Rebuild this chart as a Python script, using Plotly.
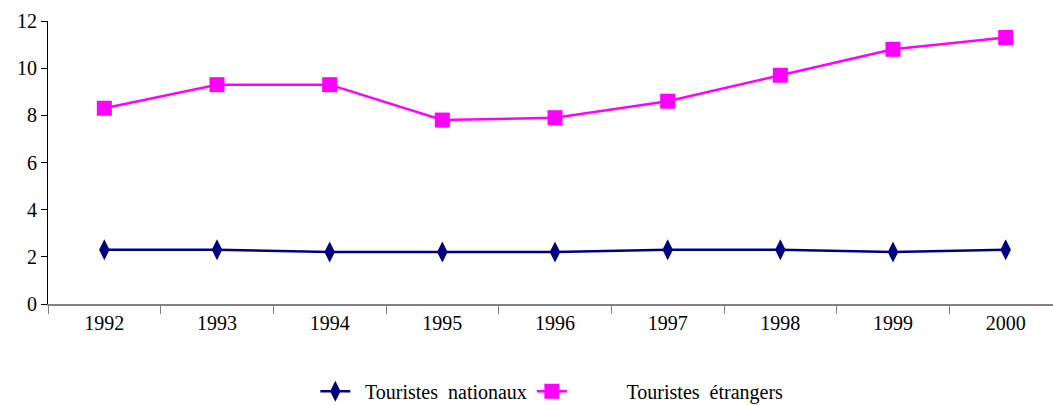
import plotly.graph_objects as go

years = ["1992", "1993", "1994", "1995", "1996", "1997", "1998", "1999", "2000"]
nationaux = [2.3, 2.3, 2.2, 2.2, 2.2, 2.3, 2.3, 2.2, 2.3]
etrangers = [8.3, 9.3, 9.3, 7.8, 7.9, 8.6, 9.7, 10.8, 11.3]

fig = go.Figure()
fig.add_trace(go.Scatter(
    x=years, y=nationaux, mode="lines+markers", name="  Touristes  nationaux",
    line=dict(color="#000080", width=2.5),
    marker=dict(symbol="diamond-tall", size=15, color="#000080"),
))
fig.add_trace(go.Scatter(
    x=years, y=etrangers, mode="lines+markers", name="           Touristes  étrangers",
    line=dict(color="#FF00FF", width=2.5),
    marker=dict(symbol="square", size=15, color="#FF00FF"),
))

font_family = "Liberation Serif"
fig.update_layout(
    width=1053, height=405,
    margin=dict(l=48, r=0, t=21, b=101),
    paper_bgcolor="white", plot_bgcolor="white",
    font=dict(family=font_family, size=20, color="black"),
    showlegend=True,
    legend=dict(orientation="h", x=0.266, xanchor="left", xref="paper",
                y=0.082, yanchor="top", yref="container",
                font=dict(size=20, family=font_family)),
    xaxis=dict(type="category", range=[-0.5, 8.42], showline=True, linecolor="#808080",
               linewidth=1.5, ticks="outside", tickson="boundaries", ticklen=8,
               tickcolor="#808080", showgrid=False, zeroline=False, automargin=False,
               tickfont=dict(size=20, family=font_family)),
    yaxis=dict(range=[0, 12], dtick=2, showline=True, linecolor="black", linewidth=1,
               ticks="outside", ticklen=6, tickcolor="black", showgrid=False, zeroline=False,
               automargin=False, tickfont=dict(size=20, family=font_family)),
)
fig.write_html("out.html", config={"displayModeBar": False},
               post_script="document.body.style.margin='0';document.body.style.overflow='hidden';")
